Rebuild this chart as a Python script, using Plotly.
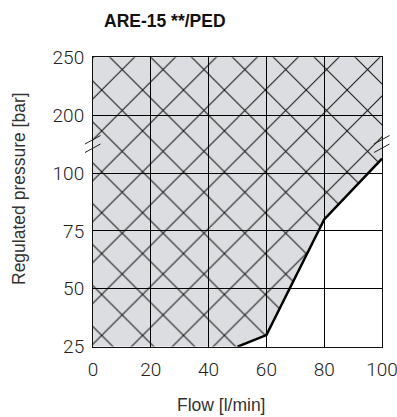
import numpy as np
import plotly.graph_objects as go

# ---- data -------------------------------------------------------------
title_text = "<b>ARE-15 **/PED</b>"
x_label = "Flow [l/min]"
y_label = "Regulated pressure [bar]"

x_ticks = [0, 20, 40, 60, 80, 100]
y_tick_values = [25, 50, 75, 100, 200, 250]   # broken axis: equally spaced labels

# upper limit of the regulated range (flow vs pressure)
limit_flow = [50, 60, 80, 100]
limit_pressure = [25, 30, 80, 125]

# ---- geometry (pixels) -------------------------------------------------
W, H = 397, 417
PX0, PX1 = 93.0, 382.0        # plot left / right
PY0, PY1 = 57.3, 346.7        # plot top / bottom
OX, OY = 60.8, 49.1           # hatch phase origin
HATCH = 28.92                 # hatch tile size


def ypos(p):
    """Map pressure onto the broken, evenly spaced axis."""
    return np.interp(p, y_tick_values, np.arange(len(y_tick_values)))


def px_x(px):
    return px / W


def px_y(py):
    return 1 - py / H


ny = len(y_tick_values) - 1
x_per_px = (x_ticks[-1] - x_ticks[0]) / (PX1 - PX0)
y_per_px = ny / (PY1 - PY0)

# hatched area: everything left of / above the limit curve
area_x = [x_ticks[0]] + limit_flow + [x_ticks[-1], x_ticks[0], x_ticks[0]]
area_p = [y_tick_values[0]] + limit_pressure + [y_tick_values[-1], y_tick_values[-1], y_tick_values[0]]

fig = go.Figure()

fig.add_trace(go.Scatter(
    x=area_x, y=ypos(area_p), xaxis="x", yaxis="y",
    mode="lines", line=dict(width=0), fill="toself",
    fillcolor="#dcdde0",
    fillpattern=dict(shape="x", size=HATCH, solidity=0.07,
                     fgcolor="#111111", bgcolor="#dcdde0", fillmode="replace"),
    hoverinfo="skip", showlegend=False,
))

fig.add_trace(go.Scatter(
    x=limit_flow, y=ypos(limit_pressure), xaxis="x2", yaxis="y2",
    mode="lines", line=dict(color="#000000", width=2.5),
    hoverinfo="skip", showlegend=False,
))

tick_font = dict(family="Roboto", weight=300, size=19, color="#222222")
axis_common = dict(ticks="", showgrid=True, gridcolor="#000000", gridwidth=1,
                   showline=True, linecolor="#111111", linewidth=1, mirror=True,
                   zeroline=False, tickfont=tick_font, fixedrange=True,
                   automargin=False, ticklabeloverflow="allow")

fig.update_layout(
    template="none",
    width=W, height=H,
    margin=dict(l=0, r=0, t=0, b=0, pad=0, autoexpand=False),
    paper_bgcolor="white", plot_bgcolor="rgba(0,0,0,0)",
    # hidden axes carrying the hatched fill (phase-shifted origin)
    xaxis=dict(domain=[px_x(OX), px_x(PX1)],
               range=[x_ticks[0] - (PX0 - OX) * x_per_px, x_ticks[-1]],
               visible=False, fixedrange=True, automargin=False),
    yaxis=dict(domain=[px_y(PY1), px_y(OY)],
               range=[0, ny + (PY0 - OY) * y_per_px],
               visible=False, fixedrange=True, anchor="x", automargin=False),
    # visible axes, grid and limit line
    xaxis2=dict(domain=[px_x(PX0), px_x(PX1)], range=[x_ticks[0], x_ticks[-1]],
                anchor="y2", tickvals=x_ticks, ticklabelstandoff=5, **axis_common),
    yaxis2=dict(domain=[px_y(PY1), px_y(PY0)], range=[0, ny],
                anchor="x2", tickvals=list(range(ny + 1)),
                ticktext=[str(v) for v in y_tick_values], ticklabelstandoff=4,
                **axis_common),
    font=dict(family="Liberation Sans, Arial", color="#222222"),
    showlegend=False,
)

label_font = dict(family="Liberation Sans, Arial", size=17.5, color="#333333")
fig.add_annotation(text=title_text, xref="paper", yref="paper",
                   x=px_x(165), y=px_y(21), xanchor="center", yanchor="middle",
                   showarrow=False,
                   font=dict(family="Liberation Sans, Arial", size=17.5, color="#111111"))
fig.add_annotation(text=x_label, xref="paper", yref="paper",
                   x=px_x(221), y=px_y(405), xanchor="center", yanchor="middle",
                   showarrow=False, font=label_font)
fig.add_annotation(text=y_label, xref="paper", yref="paper", textangle=-90,
                   x=px_x(19), y=px_y(189), xanchor="center", yanchor="middle",
                   showarrow=False, font=label_font)

# axis-break marks on both sides of the plot
for cx in (PX0, PX1):
    for dy in (0.0, 8.5):
        fig.add_shape(type="line", xref="paper", yref="paper",
                      x0=px_x(cx - 8), y0=px_y(144 + dy),
                      x1=px_x(cx + 7.5), y1=px_y(135.5 + dy),
                      line=dict(color="#222222", width=1))

fig.write_html("out.html")
